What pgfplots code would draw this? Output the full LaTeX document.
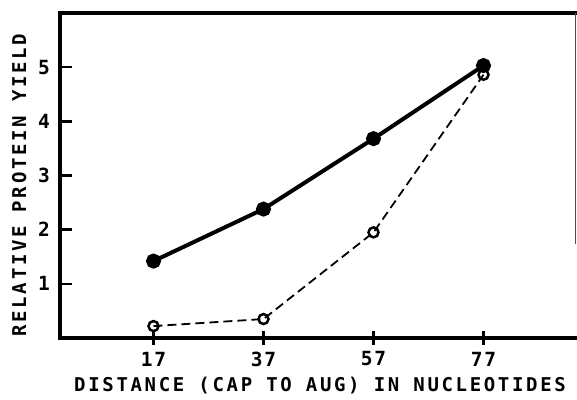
\documentclass[border=0pt]{standalone}
\usepackage{fontspec}
\setmainfont{DejaVu Sans Mono}
\newfontfamily\lab[LetterSpace=14]{DejaVu Sans Mono Bold}
\newfontfamily\tkf[LetterSpace=8]{DejaVu Sans Mono Bold}
\usepackage{pgfplots}
\pgfplotsset{compat=1.18}
\begin{document}
\begin{tikzpicture}
\begin{axis}[
  scale only axis, width=517pt, height=325pt,
  xmin=0, xmax=94, ymin=0, ymax=6,
  axis line style={draw=none},
  xtick={17,37,57,77}, ytick={1,2,3,4,5},
  xticklabels={17,37,57,77}, yticklabels={1,2,3,4,5},
  xtick pos=bottom, ytick pos=left,
  tick align=inside,
  major tick length=14pt,
  x tick style={black, line width=2.5pt, yshift=-7pt},
  y tick style={black, line width=2.5pt, xshift=-2pt},
  xticklabel style={anchor=center, yshift=-21pt, font=\tkf\fontsize{19.5}{22}\selectfont},
  yticklabel style={anchor=center, xshift=-16pt, font=\tkf\fontsize{19.5}{22}\selectfont},
  xlabel={\lab DISTANCE (CAP TO AUG) IN NUCLEOTIDES},
  ylabel={\lab RELATIVE PROTEIN YIELD},
  xlabel style={at={(axis description cs:0.503,-0.145)}, anchor=center, font=\lab\fontsize{19}{21}\selectfont},
  ylabel style={at={(axis description cs:-0.079,0.47)}, anchor=center, font=\lab\fontsize{19}{21}\selectfont},
  clip=false,
]
\draw[line width=4pt, line cap=rect] (rel axis cs:1,1) -- (rel axis cs:0,1) -- (rel axis cs:0,0) -- (rel axis cs:1,0);
\draw[line width=0.8pt, black!70] (rel axis cs:0.996,1) -- (rel axis cs:0.996,0.29);
\addplot[line width=4pt, mark=*, mark size=5.5pt, mark options={solid}] coordinates {(17,1.42)(37,2.38)(57,3.68)(77,5.03)};
\addplot[line width=1.8pt, dash pattern=on 9pt off 5pt, mark=o, mark size=5pt, mark options={solid, line width=2.5pt, fill=white}] coordinates {(17,0.22)(37,0.35)(57,1.95)(77,4.86)};
\coordinate (bl) at (rel axis cs:0,0);
\coordinate (tr) at (rel axis cs:1,1);
\end{axis}
\pgfresetboundingbox
\path[use as bounding box] ([xshift=-60pt,yshift=-61pt]bl) rectangle ([yshift=13pt]tr);
\end{tikzpicture}
\end{document}
